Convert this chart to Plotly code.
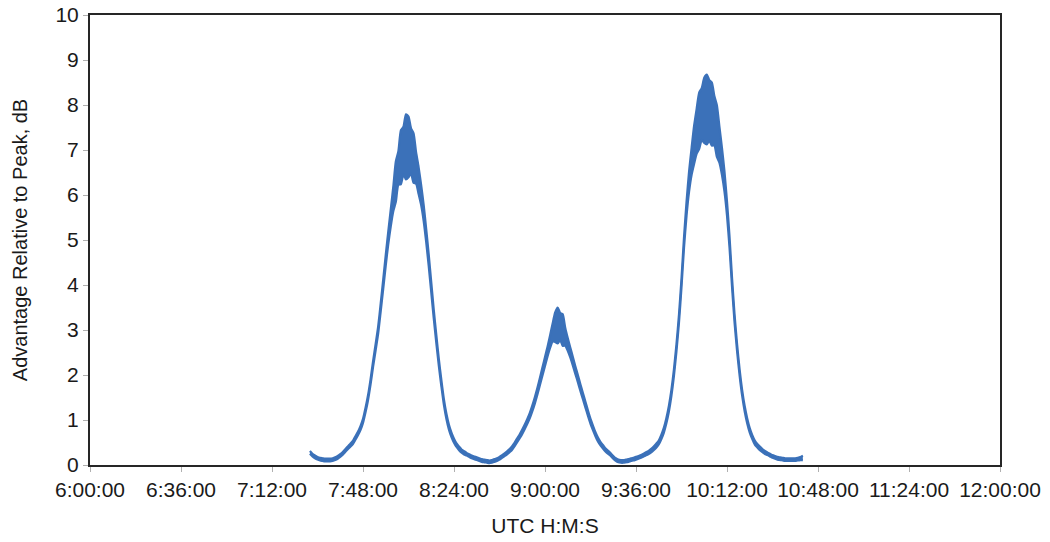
import pandas as pd
import plotly.graph_objects as go

# Received signal advantage relative to peak, sampled once a minute from 07:27 UTC
start_time = "2000-01-01 07:27:00"

# Mean level of the trace (dB), one value per minute
level_db = [
    # 07:27 - 07:58
    0.28, 0.22, 0.18, 0.15, 0.13, 0.12, 0.11, 0.11, 0.11, 0.12,
    0.14, 0.17, 0.21, 0.26, 0.32, 0.38, 0.44, 0.50, 0.60, 0.70,
    0.82, 0.98, 1.22, 1.50, 1.85, 2.25, 2.62, 3.00, 3.50, 4.02,
    4.55, 5.05,
    # 07:59 - 08:38
    5.50, 5.92, 6.30, 6.60, 6.84, 6.99, 7.07, 7.07, 6.98, 6.82,
    6.60, 6.32, 6.00, 5.60, 5.10, 4.55, 3.95, 3.35, 2.80, 2.28,
    1.82, 1.40, 1.08, 0.84, 0.67, 0.54, 0.44, 0.37, 0.31, 0.27,
    0.24, 0.21, 0.18, 0.16, 0.14, 0.12, 0.10, 0.09, 0.08, 0.07,
    # 08:39 - 09:35
    0.08, 0.10, 0.12, 0.15, 0.19, 0.23, 0.27, 0.32, 0.38, 0.46,
    0.55, 0.64, 0.74, 0.85, 0.97, 1.10, 1.26, 1.44, 1.64, 1.86,
    2.08, 2.30, 2.52, 2.74, 2.94, 3.06, 3.10, 3.08, 3.00, 2.85,
    2.68, 2.50, 2.31, 2.11, 1.92, 1.72, 1.53, 1.34, 1.15, 0.97,
    0.82, 0.68, 0.56, 0.47, 0.40, 0.33, 0.28, 0.23, 0.17, 0.12,
    0.09, 0.08, 0.08, 0.09, 0.10, 0.12, 0.13,
    # 09:36 - 10:42
    0.15, 0.17, 0.19, 0.22, 0.25, 0.28, 0.32, 0.37, 0.43, 0.50,
    0.62, 0.77, 0.98, 1.25, 1.60, 2.05, 2.60, 3.25, 4.05, 4.95,
    5.70, 6.30, 6.75, 7.12, 7.42, 7.65, 7.80, 7.88, 7.90, 7.88,
    7.80, 7.65, 7.42, 7.12, 6.75, 6.30, 5.70, 4.95, 4.05, 3.25,
    2.60, 2.05, 1.60, 1.25, 0.98, 0.77, 0.62, 0.50, 0.43, 0.37,
    0.32, 0.28, 0.25, 0.22, 0.19, 0.17, 0.15, 0.14, 0.13, 0.12,
    0.12, 0.12, 0.12, 0.12, 0.13, 0.14, 0.16,
]

# Peak-to-peak scintillation spread around the mean (dB), one value per minute
spread_db = [
    # 07:27 - 07:58
    0.06, 0.06, 0.06, 0.06, 0.06, 0.06, 0.06, 0.06, 0.06, 0.06,
    0.06, 0.06, 0.06, 0.06, 0.06, 0.06, 0.07, 0.07, 0.08, 0.08,
    0.09, 0.09, 0.10, 0.11, 0.12, 0.13, 0.14, 0.16, 0.18, 0.21,
    0.24, 0.28,
    # 07:59 - 08:38
    0.38, 0.55, 0.90, 0.75, 1.20, 1.05, 1.45, 1.35, 1.00, 1.10,
    0.70, 0.60, 0.45, 0.36, 0.30, 0.26, 0.23, 0.20, 0.18, 0.16,
    0.14, 0.13, 0.12, 0.11, 0.10, 0.09, 0.08, 0.08, 0.07, 0.07,
    0.06, 0.06, 0.06, 0.06, 0.06, 0.06, 0.06, 0.06, 0.06, 0.06,
    # 08:39 - 09:35
    0.06, 0.06, 0.06, 0.06, 0.06, 0.06, 0.07, 0.07, 0.08, 0.08,
    0.09, 0.09, 0.10, 0.10, 0.11, 0.12, 0.13, 0.14, 0.15, 0.16,
    0.18, 0.20, 0.22, 0.28, 0.40, 0.65, 0.80, 0.60, 0.70, 0.40,
    0.28, 0.22, 0.19, 0.17, 0.16, 0.15, 0.14, 0.13, 0.12, 0.11,
    0.10, 0.09, 0.09, 0.08, 0.08, 0.07, 0.07, 0.06, 0.06, 0.06,
    0.06, 0.06, 0.06, 0.06, 0.06, 0.06, 0.06,
    # 09:36 - 10:42
    0.06, 0.06, 0.06, 0.06, 0.07, 0.07, 0.08, 0.08, 0.09, 0.09,
    0.10, 0.11, 0.12, 0.13, 0.14, 0.15, 0.16, 0.18, 0.20, 0.24,
    0.32, 0.45, 0.60, 0.85, 1.00, 1.25, 1.15, 1.45, 1.55, 1.35,
    1.40, 1.10, 1.15, 0.80, 0.60, 0.45, 0.32, 0.25, 0.21, 0.18,
    0.16, 0.14, 0.13, 0.12, 0.11, 0.10, 0.09, 0.09, 0.08, 0.08,
    0.07, 0.07, 0.06, 0.06, 0.06, 0.06, 0.06, 0.06, 0.06, 0.06,
    0.06, 0.06, 0.06, 0.06, 0.06, 0.07, 0.10,
]

x_tick_labels = ["6:00:00", "6:36:00", "7:12:00", "7:48:00", "8:24:00", "9:00:00",
                 "9:36:00", "10:12:00", "10:48:00", "11:24:00", "12:00:00"]
y_tick_labels = ["0", "1", "2", "3", "4", "5", "6", "7", "8", "9", "10"]

times = pd.date_range(start_time, periods=len(level_db), freq="1min")
upper = [m + s / 2 for m, s in zip(level_db, spread_db)]
lower = [max(m - s / 2, 0.0) for m, s in zip(level_db, spread_db)]

tick_times = pd.date_range("2000-01-01 06:00:00", periods=len(x_tick_labels), freq="36min")

blue = "#3B71B9"
text_font = dict(family="Liberation Sans, Arial, sans-serif", size=21, color="#1a1a1a")

fig = go.Figure()
fig.add_trace(go.Scatter(x=times, y=upper, mode="lines",
                         line=dict(color=blue, width=2.2, shape="spline", smoothing=0.6),
                         hoverinfo="skip", showlegend=False))
fig.add_trace(go.Scatter(x=times, y=lower, mode="lines", fill="tonexty", fillcolor=blue,
                         line=dict(color=blue, width=2.2, shape="spline", smoothing=0.6),
                         showlegend=False))

fig.update_layout(
    width=1050, height=542,
    margin=dict(l=90, r=50, t=15, b=77),
    paper_bgcolor="white", plot_bgcolor="white",
    font=text_font,
)
fig.update_xaxes(
    automargin=False,
    range=[tick_times[0], tick_times[-1]],
    tickmode="array", tickvals=list(tick_times), ticktext=x_tick_labels,
    ticks="outside", ticklen=5, tickcolor="#b0b0b0", tickwidth=1,
    showgrid=False, zeroline=False,
    showline=True, linecolor="#262626", linewidth=2, mirror=True,
    tickfont=dict(size=21),
    title=dict(text="UTC H:M:S", font=dict(size=21), standoff=18),
)
fig.update_yaxes(
    automargin=False,
    range=[0, 10],
    tickmode="array", tickvals=[float(v) for v in y_tick_labels], ticktext=y_tick_labels,
    ticks="outside", ticklen=5, tickcolor="#b0b0b0", tickwidth=1,
    showgrid=False, zeroline=False,
    showline=True, linecolor="#262626", linewidth=2, mirror=True,
    tickfont=dict(size=21),
    title=dict(text="Advantage Relative to Peak, dB", font=dict(size=20), standoff=22),
)

fig.write_html("out.html")
